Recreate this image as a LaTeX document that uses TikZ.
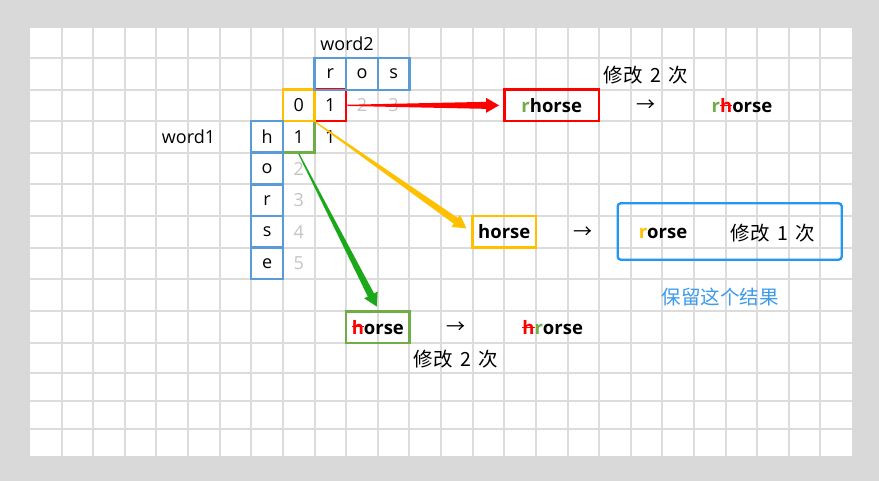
\documentclass[tikz,border=0pt]{standalone}
\usepackage{fontspec}
\setmainfont{Open Sans}
\newfontfamily\cjk{Noto Sans CJK SC}
\usetikzlibrary{calc}

\definecolor{bggray}{HTML}{D9D9D9}
\definecolor{gridgray}{HTML}{DCDCDC}
\definecolor{xlblue}{HTML}{5B9BD5}
\definecolor{xlyellow}{HTML}{FFC000}
\definecolor{xlred}{HTML}{FF0000}
\definecolor{xlgreen}{HTML}{70AD47}
\definecolor{arrowgreen}{HTML}{1BA81B}
\definecolor{digitgray}{HTML}{C4C4C4}
\definecolor{keepblue}{HTML}{2196F3}
\definecolor{notebl}{HTML}{3D9BEA}

% a letter crossed out by a horizontal rule in the current colour
\newcommand\struck[1]{\setbox0=\hbox{#1}\rlap{\rule[0.36em]{\wd0}{1.3pt}}\box0}
% wider gap between a count and the CJK words around it
\newcommand\gap{\hspace{0.38em}}

% wedge-shaped arrow: thin at its start, wide at its head
\newcommand\taperarrow[3]{%
  \coordinate (ta-s) at #2;
  \coordinate (ta-t) at #3;
  \coordinate (ta-b) at ($(ta-t)!13pt!(ta-s)$);
  \fill[#1] ($(ta-s)!0.6pt!90:(ta-t)$) -- ($(ta-b)!3.5pt!90:(ta-t)$)
    -- ($(ta-b)!7.5pt!90:(ta-t)$) -- (ta-t) -- ($(ta-b)!7.5pt!-90:(ta-t)$)
    -- ($(ta-b)!3.5pt!-90:(ta-t)$) -- ($(ta-s)!0.6pt!-90:(ta-t)$) -- cycle;}

\begin{document}
\begin{tikzpicture}[x=1pt,y=-1pt,
  every node/.style={font=\fontsize{18}{20}\selectfont, inner sep=0pt},
  gridline/.style={draw=gridgray, line width=1.6pt},
  cellbox/.style={draw=#1, line width=2.3pt, minimum width=31.62pt, minimum height=31.5pt},
  graydigit/.style={text=digitgray},
  resbox/.style={draw=#1, line width=2.5pt, font=\fontsize{18.5}{20}\selectfont\bfseries},
  res/.style={font=\fontsize{18.5}{20}\selectfont\bfseries},
  zh/.style={font=\fontsize{19.5}{22}\selectfont\cjk},
  arr/.style={font=\fontsize{19}{22}\selectfont\cjk},
]
\useasboundingbox (0,0) rectangle (879,481);
\fill[bggray] (0,0) rectangle (879,481);
\fill[white] (30,28) rectangle (852,456);

% sheet grid, on whole pixels so every line renders alike
\foreach \k in {1,...,25}
  \draw[gridline] ({round(30+31.62*\k)},28) -- ({round(30+31.62*\k)},456);
\foreach \y in {58,90,121,153,184,216,248,279,311,343,373,401,429}
  \draw[gridline] (30,\y) -- (852,\y);

% distance table
\node (w2) at (347,44) {word2};
\node (w1) at (188.5,137) {word1};

\node[cellbox=xlgreen] (d11) at ({30+31.62*8.5},136.85) {1};
\node[cellbox=xlred] (d01) at ({30+31.62*9.5},105.35) {1};
\node[cellbox=xlyellow] (d00) at ({30+31.62*8.5},105.35) {0};
\node[graydigit] (d02) at ({30+31.62*10.5},105.35) {2};
\node[graydigit] (d03) at ({30+31.62*11.5},105.35) {3};
\node (d12) at ({30+31.62*9.5},136.85) {1};
\node[graydigit] (d21) at ({30+31.62*8.5},168.5) {2};
\node[graydigit] (d31) at ({30+31.62*8.5},200.15) {3};
\node[graydigit] (d41) at ({30+31.62*8.5},231.85) {4};
\node[graydigit] (d51) at ({30+31.62*8.5},263.5) {5};

\node[cellbox=xlblue] (c-r) at ({30+31.62*9.5},74) {r};
\node[cellbox=xlblue] (c-o) at ({30+31.62*10.5},74) {o};
\node[cellbox=xlblue] (c-s) at ({30+31.62*11.5},74) {s};

\node[cellbox=xlblue] (r-h) at ({30+31.62*7.5},136.85) {h};
\node[cellbox=xlblue] (r-o) at ({30+31.62*7.5},168.5) {o};
\node[cellbox=xlblue] (r-r) at ({30+31.62*7.5},200.15) {r};
\node[cellbox=xlblue] (r-s) at ({30+31.62*7.5},231.85) {s};
\node[cellbox=xlblue] (r-e) at ({30+31.62*7.5},263.5) {e};

% insert r
\node[resbox=xlred, minimum width=94.86pt, minimum height=31.3pt] (rh) at ({30+31.62*16.5},105.35) {\textcolor{xlgreen}{r}horse};
\node[zh] (n1) at (646,75) {修改\gap 2\gap 次};
\node[arr] (a1) at (646,106) {→};
\node[res] (o1) at (742,106) {\textcolor{xlgreen}{r}\textcolor{xlred}{\struck{h}}orse};

% replace h by r
\node[resbox=xlyellow, minimum width=63.24pt, minimum height=31.7pt] (hy) at ({30+31.62*15},231.85) {horse};
\node[arr] (a2) at (583,233) {→};
\node[draw=keepblue, line width=2.3pt, rounded corners=3pt, minimum width=224pt, minimum height=56.4pt] (keep) at (729.7,231.5) {};
\node[res] (o2) at (663,233) {\textcolor{xlyellow}{r}orse};
\node[zh] (n2) at (773,233) {修改\gap 1\gap 次};
\node[zh, text=notebl] (n3) at (720,297) {保留这个结果};

% delete h
\node[resbox=xlgreen, minimum width=63.24pt, minimum height=31.7pt] (hg) at ({30+31.62*11},327.15) {\textcolor{xlred}{\struck{h}}orse};
\node[arr] (a3) at (456,328) {→};
\node[res] (o3) at (552.7,328) {\textcolor{xlred}{\struck{h}}\textcolor{xlgreen}{r}orse};
\node[zh] (n4) at (456,359) {修改\gap 2\gap 次};

% links from the table to the edits
\coordinate (redtip) at ($(rh.west)+(-4,0)$);
\coordinate (yeltip) at ($(hy.west)+(-5,-3.5)$);
\coordinate (grntip) at ($(hg.north)+(-1,-3.5)$);
\taperarrow{xlred}{(d01.east)}{(redtip)}
\taperarrow{xlyellow}{(d00.south east)}{(yeltip)}
\taperarrow{arrowgreen}{(d11.south)}{(grntip)}
\end{tikzpicture}
\end{document}
